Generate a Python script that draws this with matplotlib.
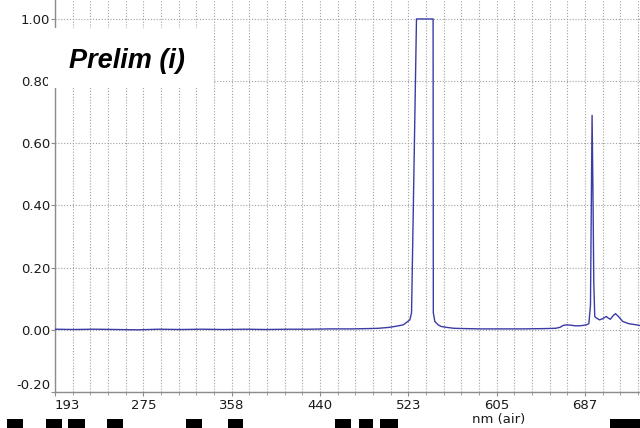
import numpy as np
import matplotlib
matplotlib.use("Agg")
import matplotlib.pyplot as plt
from matplotlib.patches import Rectangle

# spectrum (nm in air, relative intensity)
wavelength = [193, 210, 230, 250, 270, 290, 310, 330, 350, 370, 390, 410,
              430, 450, 470, 485, 495, 505, 512, 517.8, 521, 524, 525.6,
              530.2, 545.7, 545.9, 547.3, 550.4, 553, 558, 565, 575, 590,
              610, 630, 650, 660, 664, 667, 670, 674, 678, 683, 688.8, 691,
              692.5, 693.4, 694, 694.8, 695.6, 696.5, 698, 701, 704, 707.2,
              709, 711, 713.5, 715.8, 718, 722.6, 728, 735.4, 740]
intensity = [0.002, 0.001, 0.002, 0.001, 0.000, 0.002, 0.001, 0.002, 0.001,
             0.002, 0.001, 0.002, 0.002, 0.003, 0.003, 0.004, 0.005, 0.008,
             0.012, 0.016, 0.024, 0.032, 0.055, 1.0, 1.0, 0.055, 0.027,
             0.016, 0.011, 0.008, 0.005, 0.004, 0.003, 0.003, 0.003, 0.004,
             0.005, 0.008, 0.014, 0.016, 0.015, 0.013, 0.013, 0.016, 0.02,
             0.08, 0.45, 0.69, 0.45, 0.15, 0.043, 0.038, 0.032, 0.036,
             0.043, 0.038, 0.034, 0.045, 0.052, 0.045, 0.027, 0.02, 0.016,
             0.013]

x_labels = ["193", "275", "358", "440", "523", "605", "687"]
y_ticks = [-0.2, 0.0, 0.2, 0.4, 0.6, 0.8, 1.0]
x_start = 193
label_step = 82.4

fig = plt.figure(figsize=(6.4, 4.28), dpi=100)
ax = fig.add_axes([55 / 640, 36 / 428, 1 - 55 / 640, 392 / 428])

ax.plot(wavelength, intensity, color="#3b3ba6", lw=1.0, zorder=3)

major = [x_start + k * label_step for k in range(len(x_labels))]
minor = [x_start + k * label_step / 5 for k in range(1, 35)]
ax.set_xticks(major)
ax.set_xticklabels(x_labels)
ax.set_xticks(minor, minor=True)
ax.set_yticks(y_ticks)
ax.set_yticklabels(["%.2f" % v for v in y_ticks])
ax.set_xlim(x_start, 738.7)
ax.set_ylim(-0.2, 1.061)

grid_kw = dict(color="#a0a0a0", lw=0.8, linestyle=(0, (1.0, 1.6)))
ax.grid(True, which="both", axis="x", **grid_kw)
ax.grid(True, which="major", axis="y", **grid_kw)

for side in ["top", "right"]:
    ax.spines[side].set_visible(False)
for side in ["left", "bottom"]:
    ax.spines[side].set_color("#8c8c8c")
    ax.spines[side].set_linewidth(1.0)

ax.tick_params(axis="both", which="both", colors="#8c8c8c", length=3,
               labelcolor="#1a1a1a", labelsize=9.5)
ax.tick_params(axis="y", pad=0.5)
ax.tick_params(axis="x", pad=2)
ax.tick_params(axis="x", which="minor", length=2)

# first x label and lowest y label sit inside the axis ends
xl = ax.get_xticklabels()
xl[0].set_horizontalalignment("left")
yl = ax.get_yticklabels()
yl[0].set_verticalalignment("bottom")

fig.text(499 / 640, 1 - 419 / 428, "nm (air)", ha="center", va="center",
         fontsize=9.5, color="#1a1a1a")

# white label box over the top-left corner
fig.patches.append(Rectangle((48 / 640, 1 - 88 / 428), 165 / 640, 60 / 428,
                             transform=fig.transFigure, facecolor="white",
                             edgecolor="none", zorder=5))
fig.text(127 / 640, 1 - 61 / 428, "Prelim (i)", ha="center", va="center",
         fontsize=19.5, fontweight="bold", style="italic",
         family="Liberation Sans", color="black", zorder=6)

# tops of large cropped heading letters along the bottom edge
blocks = [(7, 16), (46, 16), (68, 17), (107, 16), (186, 16), (228, 15),
          (335, 16), (359, 14), (380, 18), (610, 30)]
for bx, bw in blocks:
    fig.patches.append(Rectangle((bx / 640, 0), bw / 640, 9 / 428,
                                 transform=fig.transFigure,
                                 facecolor="black", edgecolor="none"))

fig.savefig("out.png", dpi=100)
